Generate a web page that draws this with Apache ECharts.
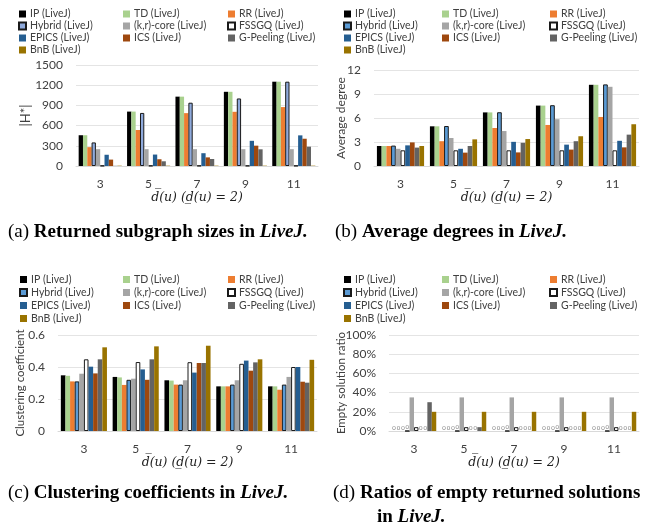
<!DOCTYPE html>
<html>
<head>
<meta charset="utf-8">
<script src="https://cdn.jsdelivr.net/npm/echarts@6/dist/echarts.min.js"></script>
<style>
html,body{margin:0;padding:0;background:#fff;}
#wrap{position:relative;width:654px;height:529px;overflow:hidden;background:#fff;}
.pn{position:absolute;}
</style>
</head>
<body>
<div id="wrap">
  <div id="ca" class="pn" style="left:0;top:0;width:327px;height:255px;"></div>
  <div id="cb" class="pn" style="left:327px;top:0;width:327px;height:255px;"></div>
  <div id="cc" class="pn" style="left:0;top:255px;width:327px;height:274px;"></div>
  <div id="cd" class="pn" style="left:327px;top:255px;width:327px;height:274px;"></div>
</div>
<script>
// ---------- shared ----------
const categories = ['3', '5', '7', '9', '11'];
const seriesNames = ['IP (LiveJ)', 'TD (LiveJ)', 'RR (LiveJ)', 'Hybrid (LiveJ)', '(k,r)-core (LiveJ)',
  'FSSGQ (LiveJ)', 'EPICS (LiveJ)', 'ICS (LiveJ)', 'G-Peeling (LiveJ)', 'BnB (LiveJ)'];

// ---------- (a) returned subgraph sizes |H*| ----------
const sizeIP     = [457, 808, 1030, 1102, 1252];
const sizeTD     = [457, 808, 1030, 1102, 1252];
const sizeRR     = [280, 535, 785, 805, 875];
const sizeHybrid = [350, 788, 940, 1003, 1252];
const sizeKR     = [250, 250, 250, 250, 250];
const sizeFSSGQ  = [5, 5, 5, 5, 5];
const sizeEPICS  = [167, 170, 190, 374, 455];
const sizeICS    = [95, 100, 128, 302, 405];
const sizeGP     = [3, 70, 104, 248, 287];
const sizeBnB    = [5, 5, 5, 5, 5];

// ---------- (b) average degree ----------
const degIP     = [2.5, 4.96, 6.7, 7.55, 10.15];
const degTD     = [2.5, 4.96, 6.7, 7.55, 10.15];
const degRR     = [2.5, 3.1, 4.75, 5.13, 6.13];
const degHybrid = [2.55, 5.0, 6.72, 7.6, 10.2];
const degKR     = [2.15, 3.5, 4.37, 5.85, 9.9];
const degFSSGQ  = [1.96, 1.96, 1.96, 1.96, 1.96];
const degEPICS  = [2.58, 2.15, 3.02, 2.67, 3.15];
const degICS    = [2.95, 1.67, 1.7, 2.05, 2.33];
const degGP     = [2.3, 2.5, 2.9, 3.1, 3.92];
const degBnB    = [2.5, 3.33, 3.37, 3.72, 5.22];

// ---------- (c) clustering coefficient ----------
const ccIP     = [0.348, 0.338, 0.317, 0.279, 0.279];
const ccTD     = [0.345, 0.335, 0.315, 0.279, 0.279];
const ccRR     = [0.31, 0.288, 0.29, 0.279, 0.258];
const ccHybrid = [0.31, 0.32, 0.29, 0.29, 0.29];
const ccKR     = [0.358, 0.327, 0.317, 0.317, 0.338];
const ccFSSGQ  = [0.448, 0.431, 0.43, 0.42, 0.40];
const ccEPICS  = [0.402, 0.385, 0.365, 0.44, 0.40];
const ccICS    = [0.36, 0.32, 0.425, 0.377, 0.308];
const ccGP     = [0.448, 0.448, 0.425, 0.429, 0.302];
const ccBnB    = [0.523, 0.529, 0.533, 0.448, 0.445];

// ---------- (d) empty solution ratio (%) ----------
const emIP     = [0, 0, 0, 0, 0];
const emTD     = [0, 0, 0, 0, 0];
const emRR     = [0, 0, 0, 0, 0];
const emHybrid = [0, 0, 0, 0, 0];
const emKR     = [35, 35, 35, 35, 35];
const emFSSGQ  = [4, 4, 4, 4, 4];
const emEPICS  = [0, 0, 0, 0, 0];
const emICS    = [0, 0, 0, 0, 0];
const emGP     = [30, 4, 0, 0, 0];
const emBnB    = [20, 20, 20, 20, 20];

const xTitle = 'd\u0305(u) (d\u0332(u) = 2)';

const baseColors = ['#000000', '#A9D18E', '#ED7D31', '#5B9BD5', '#A5A5A5', '#FFFFFF', '#255E91', '#9E480E', '#636363', '#997300'];
const FONT = 'Lato, "Open Sans", sans-serif';
const TXT = '#404040';

function build(elId, cfg) {
  const chart = echarts.init(document.getElementById(elId), null, {renderer: 'canvas'});
  const colors = baseColors.slice();
  if (cfg.hybridColor) colors[3] = cfg.hybridColor;
  const series = cfg.data.map((d, i) => {
    const st = {color: colors[i]};
    if (i === 3 || i === 5) { st.borderColor = '#1a1a1a'; st.borderWidth = 1; }
    const s = {
      name: seriesNames[i], type: 'bar', data: d, itemStyle: st,
      barGap: '0%', barCategoryGap: '11%', animation: false
    };
    if (cfg.zeroLabels) {
      s.label = {show: true, position: 'top', distance: 0, fontSize: 6, color: '#808080', fontFamily: FONT,
        formatter: p => (p.value === 0 ? '0' : '')};
    }
    return s;
  });
  const lg = (left, names) => ({
    orient: 'vertical', left: left, top: cfg.legendTop, itemWidth: 7, itemHeight: 7, itemGap: 0,
    icon: 'rect', selectedMode: false,
    textStyle: {fontSize: 10.5, color: TXT, fontFamily: FONT, lineHeight: cfg.rowH, padding: [0, 0, 0, -1]},
    data: names
  });
  const option = {
    animation: false,
    backgroundColor: '#fff',
    title: cfg.titles,
    legend: [
      lg(cfg.legendX[0], [seriesNames[0], seriesNames[3], seriesNames[6], seriesNames[9]]),
      lg(cfg.legendX[1], [seriesNames[1], seriesNames[4], seriesNames[7]]),
      lg(cfg.legendX[2], [seriesNames[2], seriesNames[5], seriesNames[8]])
    ],
    grid: cfg.grid,
    xAxis: {
      type: 'category', data: categories,
      axisTick: {show: false},
      axisLine: {lineStyle: {color: '#D9D9D9'}},
      axisLabel: {fontSize: 12, color: TXT, fontFamily: FONT, margin: 12},
      name: xTitle, nameLocation: 'middle', nameGap: 25, nameMoveOverlap: false,
      nameTextStyle: {fontSize: 12.5, color: '#222', fontFamily: '"DejaVu Serif", serif', fontStyle: 'italic'}
    },
    yAxis: {
      type: 'value', min: cfg.yMin, max: cfg.yMax, interval: cfg.interval,
      axisLine: {show: false}, axisTick: {show: false},
      splitLine: {lineStyle: {color: '#E4E4E4'}},
      axisLabel: {fontSize: 12, color: TXT, fontFamily: FONT, margin: 13, formatter: cfg.yFmt || (v => String(v))},
      name: cfg.yName, nameLocation: 'middle', nameGap: cfg.yNameGap, nameRotate: 90, nameMoveOverlap: false,
      nameTextStyle: {fontSize: cfg.yNameSize || 12, color: TXT, fontFamily: FONT}
    },
    series: series
  };
  chart.setOption(option);
  return chart;
}

const CAPF = 19;
const capStyle = {
  fontFamily: '"Liberation Serif", serif', fontSize: CAPF, color: '#000',
  rich: {
    n: {fontFamily: '"Liberation Serif", serif', fontSize: CAPF, fontWeight: 'normal', color: '#000'},
    b: {fontFamily: '"Liberation Serif", serif', fontSize: CAPF, fontWeight: 'bold', color: '#000'},
    i: {fontFamily: '"Liberation Serif", serif', fontSize: CAPF, fontWeight: 'bold', fontStyle: 'italic', color: '#000'}
  }
};
function cap(left, top, text) {
  return {left: left, top: top, text: text, textStyle: capStyle, padding: 0};
}

build('ca', {
  data: [sizeIP, sizeTD, sizeRR, sizeHybrid, sizeKR, sizeFSSGQ, sizeEPICS, sizeICS, sizeGP, sizeBnB],
  hybridColor: '#8FAADC',
  grid: {left: 76, right: 9, top: 65, bottom: 89},
  yMin: 0, yMax: 1500, interval: 300,
  yName: '|H*|', yNameGap: 44, yNameSize: 13,
  legendX: [13, 118, 222], legendTop: 3, rowH: 12,
  titles: [cap(8, 223, '{n|(a)} {b|Returned subgraph sizes in }{i|LiveJ.}')]
});

build('cb', {
  data: [degIP, degTD, degRR, degHybrid, degKR, degFSSGQ, degEPICS, degICS, degGP, degBnB],
  grid: {left: 47, right: 15, top: 70, bottom: 89},
  yMin: 0, yMax: 12, interval: 3,
  yName: 'Average degree', yNameGap: 27,
  legendX: [11, 110, 217], legendTop: 3, rowH: 12,
  titles: [cap(8, 223, '{n|(b)} {b|Average degrees in }{i|LiveJ.}')]
});

build('cc', {
  data: [ccIP, ccTD, ccRR, ccHybrid, ccKR, ccFSSGQ, ccEPICS, ccICS, ccGP, ccBnB],
  grid: {left: 58, right: 10, top: 80, bottom: 98},
  yMin: 0, yMax: 0.6, interval: 0.2,
  yFmt: v => (v === 0 ? '0' : v.toFixed(1)),
  yName: 'Clustering coefficient', yNameGap: 32, yNameSize: 11.5,
  legendX: [14, 118, 222], legendTop: 13, rowH: 13,
  titles: [cap(8, 229, '{n|(c)} {b|Clustering coefficients in }{i|LiveJ.}')]
});

build('cd', {
  data: [emIP, emTD, emRR, emHybrid, emKR, emFSSGQ, emEPICS, emICS, emGP, emBnB],
  zeroLabels: true,
  grid: {left: 62, right: 15, top: 80, bottom: 98},
  yMin: 0, yMax: 100, interval: 20,
  yFmt: v => v + '%',
  yName: 'Empty solution ratio', yNameGap: 42, yNameSize: 11.5,
  legendX: [11, 110, 217], legendTop: 13, rowH: 13,
  titles: [
    cap(6, 229, '{n|(d)} {b|Ratios of empty returned solutions}'),
    cap(50, 253, '{b|in }{i|LiveJ.}')
  ]
});
</script>
</body>
</html>
